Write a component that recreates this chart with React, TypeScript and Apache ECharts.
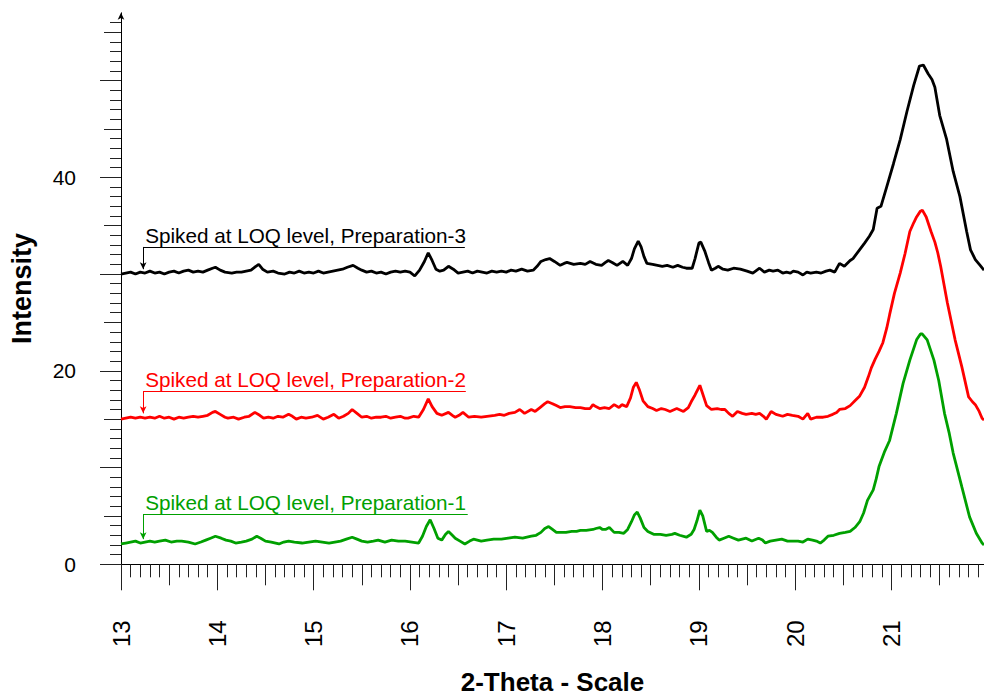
import React, { useEffect, useRef } from "react";
import * as echarts from "echarts";

// [2-theta, intensity]
const prep3Data: number[][] = [
  [13.00,30.0],[13.05,30.1],[13.10,30.2],[13.15,30.0],[13.20,30.2],[13.25,30.1],[13.30,30.3],[13.35,30.1],[13.40,30.2],[13.45,30.0],[13.50,30.2],[13.55,30.3],[13.60,30.1],[13.65,30.3],[13.70,30.4],[13.75,30.2],[13.80,30.3],[13.85,30.2],[13.90,30.4],[13.95,30.6],[13.98,30.7],[14.03,30.4],[14.08,30.2],[14.15,30.1],[14.20,30.2],[14.25,30.2],[14.30,30.3],[14.35,30.4],[14.40,30.8],[14.43,31.0],[14.47,30.5],[14.52,30.2],[14.58,30.3],[14.63,30.1],[14.70,30.0],[14.75,30.2],[14.80,30.1],[14.85,30.3],[14.90,30.1],[14.95,30.2],[15.00,30.1],[15.05,30.3],[15.10,30.1],[15.15,30.2],[15.20,30.3],[15.25,30.4],[15.30,30.5],[15.35,30.7],[15.41,30.9],[15.46,30.6],[15.50,30.4],[15.55,30.2],[15.60,30.3],[15.65,30.1],[15.70,30.2],[15.75,30.0],[15.80,30.2],[15.85,30.3],[15.90,30.2],[15.95,30.3],[16.00,30.2],[16.05,29.8],[16.10,30.4],[16.15,31.3],[16.19,32.2],[16.23,31.4],[16.27,30.5],[16.31,30.3],[16.35,30.4],[16.40,30.8],[16.45,30.5],[16.50,30.1],[16.55,30.2],[16.60,30.3],[16.65,30.1],[16.70,30.3],[16.75,30.2],[16.80,30.1],[16.85,30.3],[16.90,30.2],[16.95,30.3],[17.00,30.2],[17.05,30.4],[17.10,30.3],[17.16,30.5],[17.22,30.3],[17.28,30.4],[17.32,30.8],[17.36,31.3],[17.41,31.5],[17.45,31.6],[17.50,31.3],[17.56,30.9],[17.60,31.1],[17.63,31.2],[17.70,31.0],[17.77,31.1],[17.82,31.0],[17.87,31.3],[17.93,31.0],[17.99,30.9],[18.03,31.2],[18.06,31.4],[18.10,31.2],[18.15,30.9],[18.21,31.3],[18.26,30.9],[18.30,31.6],[18.33,32.6],[18.37,33.4],[18.40,32.8],[18.43,31.8],[18.46,31.1],[18.52,31.0],[18.57,30.9],[18.62,30.8],[18.67,30.9],[18.73,30.7],[18.78,30.9],[18.83,30.7],[18.87,30.6],[18.93,30.6],[18.96,31.6],[19.00,33.2],[19.02,33.3],[19.06,32.4],[19.10,31.2],[19.13,30.4],[19.17,30.6],[19.20,30.8],[19.25,30.5],[19.30,30.4],[19.36,30.6],[19.43,30.5],[19.50,30.3],[19.56,30.1],[19.63,30.6],[19.68,30.2],[19.73,30.4],[19.77,30.3],[19.82,30.4],[19.87,30.1],[19.91,30.2],[19.95,30.1],[19.98,30.3],[20.03,30.2],[20.08,29.9],[20.12,30.2],[20.16,30.1],[20.22,30.2],[20.27,30.1],[20.32,30.3],[20.36,30.4],[20.41,30.2],[20.46,31.1],[20.51,30.8],[20.57,31.4],[20.60,31.6],[20.66,32.4],[20.72,33.2],[20.77,33.9],[20.81,34.6],[20.85,36.8],[20.89,37.0],[20.95,39.0],[21.02,41.4],[21.09,43.9],[21.16,46.8],[21.23,49.5],[21.29,51.5],[21.33,51.6],[21.38,50.7],[21.42,50.1],[21.45,49.3],[21.50,46.4],[21.57,44.0],[21.64,40.6],[21.71,38.0],[21.78,34.4],[21.82,32.5],[21.87,31.5],[21.92,30.9],[21.96,30.4]
];

const prep2Data: number[][] = [
  [13.00,15.0],[13.05,15.1],[13.10,15.2],[13.15,15.1],[13.20,15.2],[13.25,15.1],[13.30,15.2],[13.35,15.1],[13.40,15.3],[13.45,15.1],[13.50,15.2],[13.55,15.0],[13.60,15.2],[13.65,15.1],[13.70,15.2],[13.75,15.3],[13.80,15.2],[13.85,15.3],[13.90,15.4],[13.95,15.7],[13.98,15.8],[14.03,15.5],[14.08,15.2],[14.11,15.1],[14.17,15.2],[14.22,15.0],[14.28,15.2],[14.33,15.3],[14.39,15.7],[14.44,15.4],[14.48,15.1],[14.53,15.2],[14.58,15.1],[14.63,15.3],[14.68,15.2],[14.74,15.5],[14.78,15.3],[14.82,15.0],[14.87,15.2],[14.92,15.1],[14.98,15.2],[15.04,15.4],[15.10,15.0],[15.15,15.2],[15.21,15.5],[15.26,15.1],[15.31,15.3],[15.36,15.6],[15.40,16.0],[15.45,15.6],[15.50,15.2],[15.55,15.3],[15.60,15.1],[15.65,15.2],[15.70,15.2],[15.75,15.3],[15.80,15.1],[15.85,15.2],[15.90,15.3],[15.95,15.1],[15.98,15.1],[16.04,15.3],[16.09,15.2],[16.14,16.0],[16.19,17.1],[16.23,16.3],[16.28,15.6],[16.33,15.4],[16.40,15.7],[16.44,15.4],[16.47,15.2],[16.51,15.4],[16.55,15.7],[16.61,15.2],[16.67,15.3],[16.74,15.2],[16.80,15.3],[16.88,15.4],[16.93,15.5],[16.98,15.4],[17.03,15.6],[17.09,15.7],[17.14,16.0],[17.19,15.6],[17.26,16.0],[17.30,15.8],[17.35,16.2],[17.40,16.6],[17.43,16.8],[17.48,16.6],[17.52,16.4],[17.56,16.2],[17.61,16.3],[17.66,16.3],[17.72,16.2],[17.77,16.2],[17.82,16.1],[17.87,16.1],[17.90,16.5],[17.93,16.3],[17.97,16.1],[18.02,16.2],[18.07,16.1],[18.12,16.5],[18.17,16.2],[18.20,16.5],[18.25,16.3],[18.29,17.2],[18.32,18.3],[18.35,18.8],[18.38,18.1],[18.42,16.9],[18.47,16.3],[18.52,16.1],[18.56,15.9],[18.61,16.1],[18.65,16.0],[18.70,15.8],[18.77,16.1],[18.84,15.8],[18.89,16.2],[18.92,16.8],[18.96,17.5],[19.01,18.5],[19.04,17.6],[19.08,16.4],[19.13,16.0],[19.19,16.1],[19.23,16.0],[19.27,16.0],[19.31,15.6],[19.35,15.3],[19.40,15.8],[19.45,15.6],[19.49,15.5],[19.55,15.6],[19.59,15.5],[19.63,15.6],[19.67,15.3],[19.70,15.0],[19.75,15.8],[19.80,15.5],[19.87,15.3],[19.92,15.5],[19.97,15.4],[20.03,15.3],[20.08,15.0],[20.13,15.6],[20.16,15.0],[20.22,15.2],[20.29,15.2],[20.34,15.3],[20.39,15.5],[20.43,15.7],[20.46,16.0],[20.52,16.1],[20.57,16.4],[20.62,16.9],[20.67,17.4],[20.72,18.3],[20.76,19.4],[20.79,20.3],[20.83,21.2],[20.87,22.0],[20.91,22.9],[20.95,24.4],[20.98,25.8],[21.03,28.0],[21.09,30.1],[21.14,32.1],[21.19,34.4],[21.23,35.3],[21.26,35.9],[21.30,36.5],[21.32,36.6],[21.36,35.9],[21.41,34.4],[21.45,33.3],[21.48,32.2],[21.51,30.8],[21.58,27.0],[21.66,23.2],[21.73,20.4],[21.80,17.3],[21.84,16.8],[21.87,16.5],[21.91,15.8],[21.94,15.1],[21.96,14.9]
];

const prep1Data: number[][] = [
  [13.00,2.1],[13.05,2.2],[13.10,2.3],[13.15,2.4],[13.20,2.2],[13.25,2.3],[13.30,2.4],[13.35,2.3],[13.40,2.4],[13.46,2.5],[13.52,2.3],[13.58,2.4],[13.63,2.4],[13.70,2.3],[13.77,2.1],[13.83,2.3],[13.88,2.5],[13.93,2.7],[13.98,2.9],[14.04,2.7],[14.09,2.5],[14.14,2.4],[14.19,2.2],[14.25,2.3],[14.30,2.4],[14.36,2.6],[14.41,2.9],[14.45,2.7],[14.50,2.4],[14.56,2.3],[14.64,2.1],[14.69,2.3],[14.74,2.4],[14.80,2.3],[14.88,2.2],[14.95,2.3],[15.02,2.4],[15.09,2.3],[15.16,2.2],[15.22,2.3],[15.28,2.4],[15.34,2.6],[15.40,2.8],[15.45,2.6],[15.50,2.4],[15.56,2.3],[15.62,2.4],[15.67,2.5],[15.74,2.3],[15.81,2.5],[15.88,2.4],[15.95,2.4],[16.02,2.3],[16.09,2.2],[16.13,2.9],[16.17,3.9],[16.21,4.6],[16.25,3.7],[16.29,2.7],[16.33,2.5],[16.37,3.1],[16.40,3.4],[16.44,3.0],[16.47,2.7],[16.52,2.4],[16.57,2.1],[16.62,2.4],[16.66,2.6],[16.70,2.5],[16.74,2.4],[16.80,2.5],[16.87,2.6],[16.95,2.6],[17.02,2.7],[17.09,2.8],[17.17,2.7],[17.26,2.9],[17.31,3.0],[17.36,3.3],[17.40,3.7],[17.44,3.9],[17.48,3.6],[17.52,3.3],[17.57,3.3],[17.62,3.3],[17.68,3.4],[17.73,3.4],[17.77,3.5],[17.83,3.5],[17.90,3.6],[17.93,3.7],[17.97,3.8],[18.00,3.6],[18.03,3.6],[18.07,3.8],[18.12,3.3],[18.17,3.3],[18.22,3.2],[18.26,3.6],[18.30,4.4],[18.33,5.1],[18.36,5.4],[18.39,4.8],[18.43,3.8],[18.47,3.4],[18.53,3.1],[18.60,3.1],[18.66,3.0],[18.72,3.1],[18.75,3.2],[18.80,3.0],[18.87,2.8],[18.92,3.1],[18.95,3.6],[18.98,4.5],[19.01,5.6],[19.04,5.0],[19.08,3.4],[19.11,3.5],[19.14,3.3],[19.18,2.8],[19.21,2.5],[19.26,2.7],[19.31,2.9],[19.36,2.7],[19.41,2.5],[19.45,2.6],[19.49,2.7],[19.55,2.4],[19.62,2.7],[19.66,2.5],[19.69,2.2],[19.74,2.4],[19.80,2.5],[19.86,2.6],[19.92,2.4],[19.97,2.4],[20.03,2.4],[20.08,2.3],[20.13,2.6],[20.18,2.5],[20.22,2.4],[20.26,2.2],[20.30,2.5],[20.34,2.9],[20.40,3.0],[20.46,3.2],[20.52,3.3],[20.57,3.4],[20.62,3.8],[20.67,4.4],[20.71,5.3],[20.75,6.6],[20.81,7.7],[20.84,8.8],[20.87,10.1],[20.93,11.7],[20.98,12.8],[21.05,15.6],[21.12,18.7],[21.19,21.1],[21.26,23.2],[21.30,23.8],[21.32,23.8],[21.37,23.2],[21.44,21.1],[21.49,19.0],[21.55,15.6],[21.60,13.5],[21.64,11.5],[21.73,8.0],[21.81,4.9],[21.88,3.2],[21.94,2.2],[21.96,2.0]
];

const seriesNames = [
  "Spiked at LOQ level, Preparation-1",
  "Spiked at LOQ level, Preparation-2",
  "Spiked at LOQ level, Preparation-3",
];
const seriesColors = ["#00a000", "#ff0000", "#000000"];
// annotation leader: [x start, x end, line level, arrow tip level]
const leader1 = [13.23, 16.6, 5.2, 2.6];
const leader2 = [13.23, 16.58, 17.9, 15.6];
const leader3 = [13.23, 16.57, 32.8, 30.5];

const xLabelValues = [13, 14, 15, 16, 17, 18, 19, 20, 21];
const yLabelValues = [0, 20, 40];
const X_MIN = 13;
const X_MAX = 21.96;
const Y_MIN = 0;
const Y_MAX = 57;

const xMinorTicks = Array.from({ length: 90 }, (_, i) => Math.round((13 + i * 0.1) * 10) / 10);
const xMidTicks = Array.from({ length: 9 }, (_, i) => 13.5 + i);
const xMajorTicks = xLabelValues;
const yMinorTicks = Array.from({ length: 57 }, (_, i) => i);
const yMidTicks = Array.from({ length: 6 }, (_, i) => 5 + i * 10);
const yMajorTicks = Array.from({ length: 6 }, (_, i) => i * 10);

const FONT = "'Liberation Sans', Arial, sans-serif";

function leaderLine(l: number[], name: string, color: string) {
  return {
    silent: true,
    symbol: ["none", "none"],
    animation: false,
    lineStyle: { color, width: 1, type: "solid" },
    label: { show: false },
    emphasis: { disabled: true },
    data: [
      [
        {
          coord: [l[0], l[2]],
          label: {
            show: true,
            position: "insideStartTop",
            formatter: name,
            color,
            fontSize: 20.7,
            fontFamily: FONT,
            distance: [2, 1],
          },
        },
        { coord: [l[1], l[2]] },
      ],
      [
        { coord: [l[0], l[2]] },
        { coord: [l[0], l[3]], symbol: "arrow", symbolSize: [5, 7] },
      ],
    ],
  };
}

function tickXAxis(values: number[], len: number, withLine: boolean, withLabels: boolean) {
  return {
    type: "value",
    min: X_MIN,
    max: X_MAX,
    position: "bottom",
    axisLine: { show: withLine, onZero: false, lineStyle: { color: "#000", width: 1 } },
    axisTick: { show: true, customValues: values, length: len, lineStyle: { color: "#222", width: 1 } },
    axisLabel: withLabels
      ? { show: true, customValues: xLabelValues, rotate: 90, margin: 56, fontSize: 24, color: "#000", fontFamily: FONT }
      : { show: false },
    splitLine: { show: false },
    ...(withLabels
      ? {
          name: "2-Theta - Scale",
          nameLocation: "middle",
          nameGap: 105,
          nameTextStyle: { fontSize: 26, fontWeight: "bold", color: "#000", fontFamily: FONT, lineHeight: 26 },
        }
      : {}),
  };
}

function tickYAxis(values: number[], len: number, withLine: boolean, withLabels: boolean) {
  return {
    type: "value",
    min: Y_MIN,
    max: Y_MAX,
    position: "left",
    axisLine: {
      show: withLine,
      onZero: false,
      symbol: ["none", "arrow"],
      symbolSize: [5, 7],
      lineStyle: { color: "#000", width: 1 },
    },
    axisTick: { show: true, customValues: values, length: len, lineStyle: { color: "#222", width: 1 } },
    axisLabel: withLabels
      ? {
          show: true,
          customValues: yLabelValues,
          margin: 45,
          fontSize: 21,
          color: "#000",
          fontFamily: FONT,
          padding: [12, 0, 0, 0],
        }
      : { show: false },
    splitLine: { show: false },
    ...(withLabels
      ? {
          name: "Intensity",
          nameLocation: "middle",
          nameGap: 86,
          nameTextStyle: { fontSize: 27, fontWeight: "bold", color: "#000", fontFamily: FONT },
        }
      : {}),
  };
}

export default function App() {
  const ref = useRef<HTMLDivElement>(null);
  useEffect(() => {
    if (!ref.current) return;
    const chart = echarts.init(ref.current, undefined, { renderer: "svg" });
    const datasets = [prep1Data, prep2Data, prep3Data];
    const leaders = [leader1, leader2, leader3];
    chart.setOption({
      animation: false,
      backgroundColor: "#ffffff",
      grid: {
        left: 121,
        right: 0,
        top: 12.8,
        bottom: 131.7,
        containLabel: false,
        outerBoundsMode: "none",
      },
      xAxis: [
        tickXAxis(xMinorTicks, 13, true, true),
        tickXAxis(xMidTicks, 21, false, false),
        tickXAxis(xMajorTicks, 26, false, false),
      ],
      yAxis: [
        tickYAxis(yMinorTicks, 11, true, true),
        tickYAxis(yMidTicks, 17, false, false),
        tickYAxis(yMajorTicks, 21, false, false),
      ],
      series: datasets.map((d, i) => ({
        type: "line",
        name: seriesNames[i],
        data: d,
        xAxisIndex: 0,
        yAxisIndex: 0,
        showSymbol: false,
        symbol: "none",
        smooth: false,
        lineStyle: { color: seriesColors[i], width: 2.8 },
        itemStyle: { color: seriesColors[i] },
        z: 3,
        markLine: leaderLine(leaders[i], seriesNames[i], seriesColors[i]),
      })),
    });
    return () => chart.dispose();
  }, []);
  return (
    <div
      ref={ref}
      style={{ position: "fixed", left: 0, top: 0, width: 984, height: 696, background: "#fff" }}
    />
  );
}
